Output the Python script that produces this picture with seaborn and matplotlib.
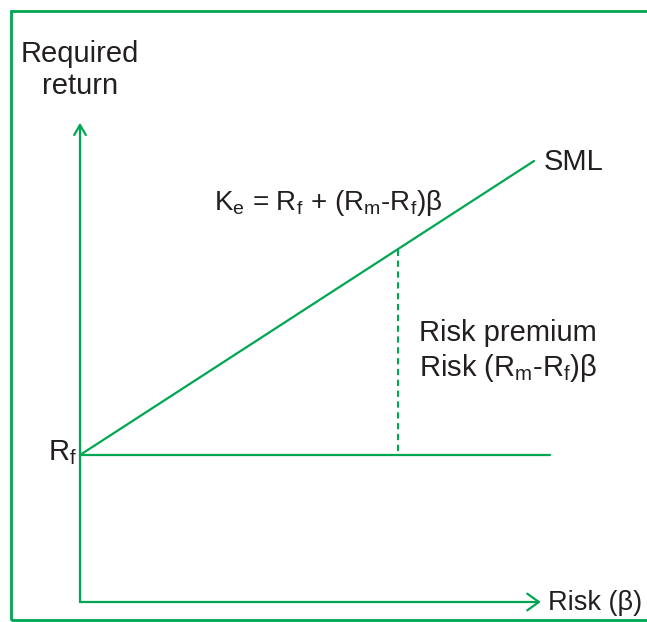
import matplotlib
matplotlib.use("Agg")
import matplotlib.pyplot as plt
import numpy as np
import pandas as pd
import seaborn as sns
from matplotlib.patches import Rectangle

# data: security market line, beta vs required return
beta = np.array([0.0, 2.0])
rf = 5.0
rm = 10.0
sml = rf + (rm - rf) * beta
beta_marker = 1.4
beta_axis_end = 2.03
return_axis_end = 16.3
beta_rf_end = 2.07

GREEN = "#00a651"
TEXT = "#231f20"

sns.set_theme(style="white")
plt.rcParams.update(
    {
        "font.family": ["Liberation Sans", "DejaVu Sans"],
        "mathtext.fontset": "custom",
        "mathtext.rm": "Liberation Sans",
        "mathtext.it": "Liberation Sans",
        "mathtext.bf": "Liberation Sans",
    }
)

W, H = 647, 622
fig = plt.figure(figsize=(W / 100, H / 100), dpi=100)
ax = fig.add_axes([0, 0, 1, 1])

# pixel scale of the drawing: origin at (80, 602)
xpx, ypx = 227.0, 29.4
ax.set_xlim(-80 / xpx, (W - 80) / xpx)
ax.set_ylim(-(H - 602) / ypx, 602 / ypx)
ax.axis("off")


def px(x, y):
    return (x - 80) / xpx, (602 - y) / ypx


df = pd.DataFrame({"beta": beta, "ret": sml})
sns.lineplot(data=df, x="beta", y="ret", color=GREEN, lw=1.6, ax=ax)
sns.lineplot(x=[0, beta_rf_end], y=[rf, rf], color=GREEN, lw=1.6, ax=ax)
ax.plot([beta_marker, beta_marker], [rf + 0.15, rf + (rm - rf) * beta_marker],
        color=GREEN, lw=1.5, linestyle=(0, (3, 2.2)))

ax.annotate("", xy=(beta_axis_end, 0), xytext=(0, 0),
            arrowprops=dict(arrowstyle="->,head_length=0.7,head_width=0.5", color=GREEN,
                            lw=1.6, shrinkA=0, shrinkB=0))
ax.annotate("", xy=(0, return_axis_end), xytext=(0, 0),
            arrowprops=dict(arrowstyle="->,head_length=0.6,head_width=0.35", color=GREEN,
                            lw=1.6, shrinkA=0, shrinkB=0))

fs = 21
ax.text(*px(80, 70), "Required\nreturn", ha="center", va="center", fontsize=fs,
        color=TEXT, linespacing=1.2)
ax.text(*px(77, 453), "R$_\\mathregular{f}$", ha="right", va="center", fontsize=fs,
        color=TEXT)
ax.text(*px(544, 162), "SML", ha="left", va="center", fontsize=fs, color=TEXT)
ax.text(*px(328, 203), "K$_e$ = R$_f$ + (R$_m$-R$_f$)β", ha="center", va="center",
        fontsize=20, color=TEXT)
ax.text(*px(419, 333), "Risk premium", ha="left", va="center", fontsize=fs, color=TEXT)
ax.text(*px(419, 368), "Risk (R$_m$-R$_f$)β", ha="left", va="center", fontsize=fs,
        color=TEXT)
ax.text(*px(548, 603), "Risk (β)", ha="left", va="center", fontsize=19.5, color=TEXT)

fig.patches.append(
    Rectangle((11 / W, 1 - 620 / H), 1.5, (620 - 11) / H, transform=fig.transFigure,
              fill=False, edgecolor=GREEN, lw=2, clip_on=False)
)

fig.savefig("out.png", dpi=100)
